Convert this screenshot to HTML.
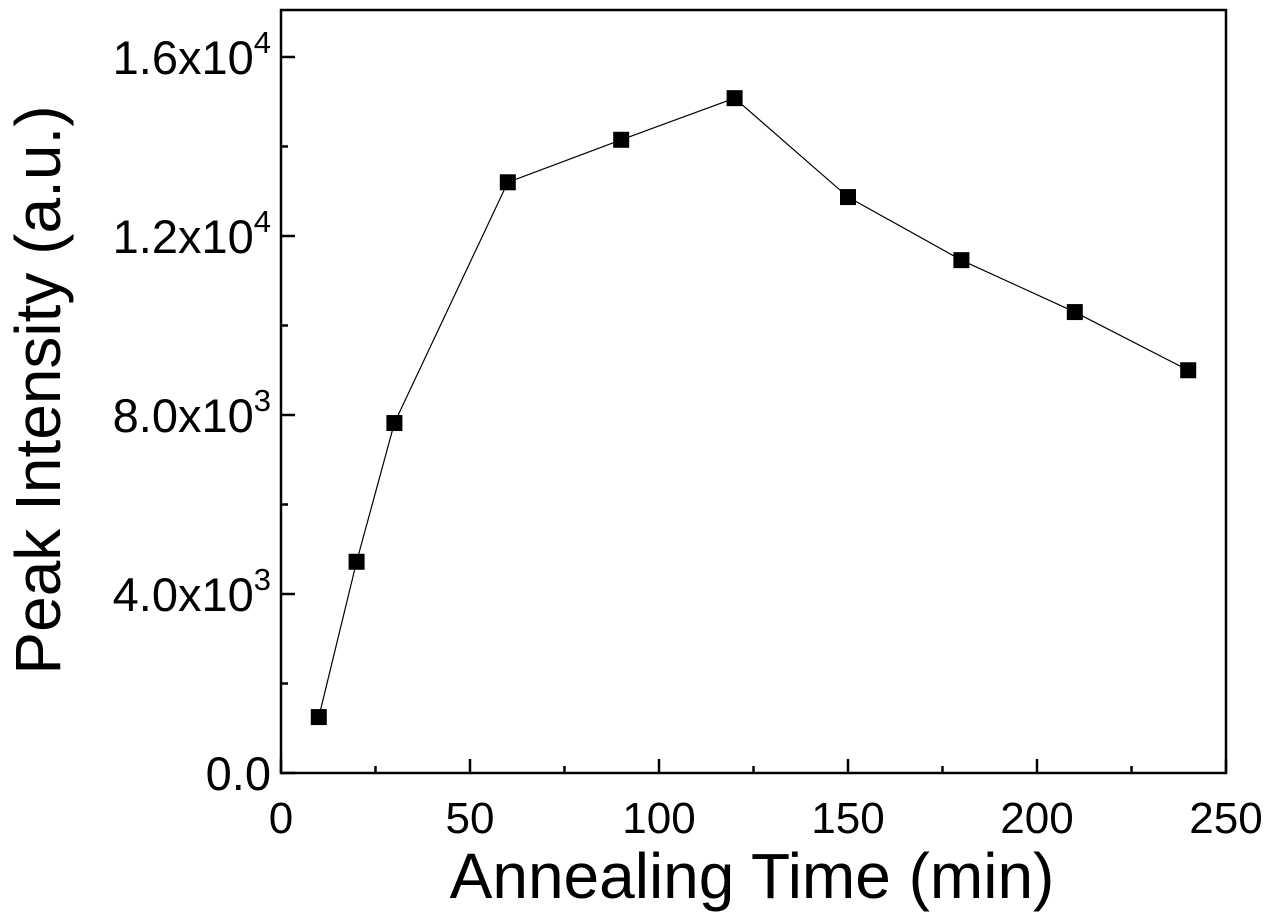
<!DOCTYPE html>
<html><head><meta charset="utf-8"><style>
body{margin:0;background:#fff}
svg{display:block;font-family:"Liberation Sans",Arial,sans-serif}
</style></head><body>
<svg id="chart" width="1273" height="918"></svg>
<script>
const times=[10,20,30,60,90,120,150,180,210,240];
const intensity=[1250,4720,7820,13200,14150,15080,12870,11460,10300,9000];
const xTicks=[0,50,100,150,200,250];
const yTicks=[0,4000,8000,12000,16000];
const yTickLabels=[["0.0",""],["4.0x10","3"],["8.0x10","3"],["1.2x10","4"],["1.6x10","4"]];
const L=281,R=1226,T=10,B=773,XMAX=250,YMAX=17050;
const sx=v=>L+v/XMAX*(R-L), sy=v=>B-v/YMAX*(B-T);
const svg=document.getElementById('chart'),NS='http://www.w3.org/2000/svg';
function mk(t,a,p){const e=document.createElementNS(NS,t);for(const k in a)e.setAttribute(k,a[k]);(p||svg).appendChild(e);return e;}
const grid=mk('g',{});


for(let i=0;i<xTicks.length;i++){
 const x=sx(xTicks[i]);
 const t=mk('line',{x1:x,x2:x,y1:B,y2:B-14,stroke:'#000','stroke-width':2.5},grid);
 
 
 if(i<xTicks.length-1){const xm=sx(xTicks[i]+25);mk('line',{x1:xm,x2:xm,y1:B,y2:B-7,stroke:'#000','stroke-width':2.5},grid);}
 const lb=mk('text',{x:x,y:B+60,'font-size':44,'text-anchor':'middle'},grid);lb.textContent=xTicks[i];
 
 
}
for(let i=0;i<yTicks.length;i++){
 const y=sy(yTicks[i]);
 const t=mk('line',{x1:L,x2:L+14,y1:y,y2:y,stroke:'#000','stroke-width':2.5},grid);
 
 
 const ym=sy(yTicks[i]+2000);if(ym>T)mk('line',{x1:L,x2:L+7,y1:ym,y2:ym,stroke:'#000','stroke-width':2.5},grid);
 const lb=mk('text',{x:L-10,y:y+17,'font-size':47,'text-anchor':'end'},grid);
 
 
 const [m,e]=yTickLabels[i];
 if(e){lb.textContent=m;const s=mk('tspan',{dy:-21,'font-size':31},lb);s.textContent=e;}
 else lb.textContent=m;
}
const fr=mk('rect',{x:L,y:T,width:R-L,height:B-T,fill:'none',stroke:'#000','stroke-width':2.5});


const line=mk('polyline',{points:times.map((t,i)=>sx(t)+','+sy(intensity[i])).join(' '),fill:'none',stroke:'#000','stroke-width':1.2});


times.forEach((t,i)=>{
 const r=mk('rect',{x:sx(t)-8,y:sy(intensity[i])-8,width:16,height:16,fill:'#000'});
 
 
});
const xt=mk('text',{x:752,y:898,'font-size':64,'text-anchor':'middle'});xt.textContent='Annealing Time (min)';


const yt=mk('text',{x:0,y:0,'font-size':64,'text-anchor':'middle',transform:'translate(60,390) rotate(-90)'});yt.textContent='Peak Intensity (a.u.)';


</script>
</body></html>
